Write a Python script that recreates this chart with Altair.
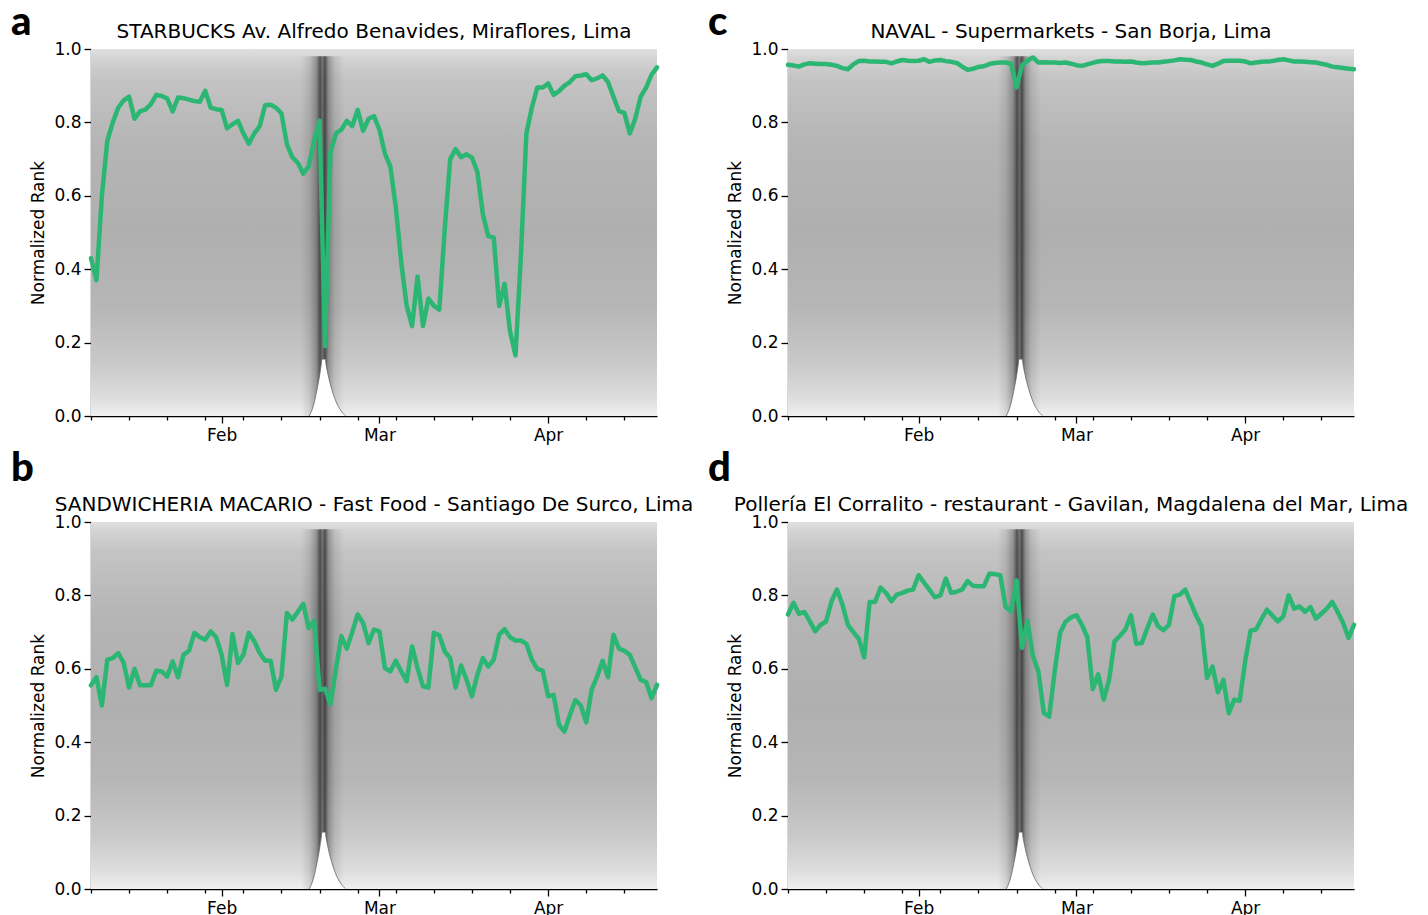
import altair as alt
import pandas as pd
import numpy as np

START = "2020-01-08"
END = "2020-04-21"

# ---- green highlighted series (daily, Jan 8 .. Apr 21, 2020) ----
vals_a = [0.43, 0.37, 0.60, 0.75, 0.80, 0.84, 0.86, 0.87, 0.81, 0.83,
          0.835, 0.85, 0.875, 0.872, 0.865, 0.83, 0.868, 0.866, 0.862, 0.858,
          0.856, 0.886, 0.84, 0.836, 0.834, 0.784, 0.795, 0.804, 0.77, 0.742,
          0.77, 0.79, 0.847, 0.848, 0.84, 0.824, 0.74, 0.705, 0.69, 0.66,
          0.68, 0.75, 0.805, 0.19, 0.72, 0.77, 0.78, 0.804, 0.79, 0.834,
          0.777, 0.81, 0.817, 0.78, 0.715, 0.68, 0.57, 0.42, 0.30, 0.245,
          0.38, 0.245, 0.32, 0.30, 0.29, 0.51, 0.70, 0.727, 0.705, 0.713,
          0.704, 0.665, 0.55, 0.49, 0.486, 0.30, 0.36, 0.23, 0.165, 0.44,
          0.77, 0.84, 0.895, 0.895, 0.906, 0.875, 0.885, 0.90, 0.91, 0.926,
          0.928, 0.931, 0.915, 0.92, 0.928, 0.91, 0.87, 0.831, 0.826, 0.77,
          0.81, 0.87, 0.895, 0.93, 0.95]

vals_b = [0.555, 0.577, 0.50, 0.625, 0.629, 0.643, 0.616, 0.549, 0.60, 0.555,
          0.555, 0.555, 0.595, 0.593, 0.579, 0.62, 0.577, 0.638, 0.649, 0.698,
          0.686, 0.679, 0.702, 0.686, 0.638, 0.556, 0.695, 0.616, 0.638, 0.698,
          0.675, 0.643, 0.622, 0.622, 0.543, 0.579, 0.752, 0.734, 0.755, 0.777,
          0.711, 0.731, 0.543, 0.546, 0.504, 0.60, 0.689, 0.655, 0.70, 0.748,
          0.725, 0.670, 0.707, 0.702, 0.602, 0.593, 0.622, 0.593, 0.566, 0.661,
          0.602, 0.552, 0.549, 0.698, 0.691, 0.647, 0.629, 0.549, 0.609, 0.570,
          0.525, 0.584, 0.629, 0.606, 0.625, 0.693, 0.708, 0.686, 0.677, 0.677,
          0.668, 0.625, 0.600, 0.595, 0.525, 0.529, 0.447, 0.429, 0.474, 0.515,
          0.500, 0.454, 0.543, 0.579, 0.622, 0.577, 0.693, 0.655, 0.649, 0.638,
          0.604, 0.570, 0.564, 0.520, 0.556]

vals_c = [0.957, 0.955, 0.952, 0.958, 0.961, 0.960, 0.959, 0.959, 0.957, 0.954,
          0.948, 0.945, 0.958, 0.967, 0.968, 0.966, 0.966, 0.965, 0.965, 0.961,
          0.966, 0.970, 0.968, 0.967, 0.968, 0.972, 0.965, 0.969, 0.970, 0.967,
          0.965, 0.962, 0.952, 0.943, 0.946, 0.951, 0.953, 0.959, 0.962, 0.963,
          0.963, 0.960, 0.895, 0.955, 0.968, 0.977, 0.963, 0.964, 0.963, 0.963,
          0.962, 0.963, 0.960, 0.956, 0.954, 0.958, 0.962, 0.966, 0.967, 0.967,
          0.966, 0.966, 0.965, 0.966, 0.963, 0.961, 0.962, 0.963, 0.963, 0.965,
          0.967, 0.969, 0.972, 0.971, 0.970, 0.966, 0.963, 0.958, 0.954, 0.960,
          0.967, 0.968, 0.968, 0.968, 0.966, 0.961, 0.963, 0.965, 0.966, 0.967,
          0.970, 0.972, 0.969, 0.966, 0.966, 0.965, 0.964, 0.963, 0.960, 0.957,
          0.952, 0.950, 0.948, 0.946, 0.945]

vals_d = [0.748, 0.780, 0.750, 0.755, 0.73, 0.702, 0.720, 0.729, 0.784, 0.816,
          0.775, 0.720, 0.70, 0.682, 0.631, 0.782, 0.782, 0.821, 0.807, 0.784,
          0.802, 0.807, 0.813, 0.816, 0.855, 0.835, 0.815, 0.795, 0.800, 0.846,
          0.807, 0.810, 0.816, 0.839, 0.826, 0.825, 0.825, 0.859, 0.858, 0.855,
          0.768, 0.757, 0.841, 0.657, 0.731, 0.634, 0.593, 0.48, 0.47, 0.593,
          0.698, 0.728, 0.740, 0.746, 0.72, 0.686, 0.545, 0.585, 0.516, 0.57,
          0.675, 0.69, 0.707, 0.746, 0.668, 0.670, 0.71, 0.748, 0.716, 0.705,
          0.72, 0.798, 0.802, 0.816, 0.78, 0.745, 0.716, 0.575, 0.606, 0.536,
          0.570, 0.479, 0.516, 0.513, 0.62, 0.704, 0.707, 0.735, 0.761, 0.745,
          0.729, 0.743, 0.800, 0.764, 0.770, 0.755, 0.768, 0.737, 0.75, 0.764,
          0.782, 0.755, 0.725, 0.684, 0.720]

titles = ["STARBUCKS Av. Alfredo Benavides, Miraflores, Lima",
          "NAVAL - Supermarkets - San Borja, Lima",
          "SANDWICHERIA MACARIO - Fast Food - Santiago De Surco, Lima",
          "Pollería El Corralito - restaurant - Gavilan, Magdalena del Mar, Lima"]
letters = ["a", "c", "b", "d"]

# background decoration: dark convergence band and white notch (day offsets)
band_days = [38.5, 46.5]
band_vals = [0.0, 0.98]
notch_days = [40.1, 40.9, 41.5, 42.0, 42.3, 42.45, 43.05, 43.2, 43.6, 44.2, 45.0, 45.9, 46.8]
notch_vals = [0.0, 0.03, 0.07, 0.11, 0.14, 0.155, 0.155, 0.14, 0.11, 0.075, 0.04, 0.015, 0.0]

# axis ticks
minor_ticks = [(1, 8), (1, 15), (1, 22), (1, 29), (2, 5), (2, 12), (2, 19), (2, 26),
               (3, 4), (3, 11), (3, 18), (3, 25), (4, 8), (4, 15)]
month_ticks = [(2, 1), (3, 1), (4, 1)]
y_ticks = [0.0, 0.2, 0.4, 0.6, 0.8, 1.0]

GREEN = "#2bb673"
FONT = "DejaVu Sans"
W, H = 566, 367


def to_dates(days):
    return pd.Timestamp(START) + pd.to_timedelta(np.asarray(days, dtype=float), unit="D")


tick_values = [alt.DateTime(year=2020, month=m, date=d) for m, d in minor_ticks + month_ticks]
xscale = alt.Scale(domain=[alt.DateTime(year=2020, month=1, date=8),
                           alt.DateTime(year=2020, month=4, date=21)])
xaxis = alt.Axis(values=tick_values, title=None, grid=False,
                 labelExpr="date(datum.value) == 1 ? timeFormat(datum.value, '%b') : ''",
                 tickSize={"condition": {"test": "date(datum.value) == 1", "value": 7}, "value": 4},
                 labelFont=FONT, labelFontSize=17, labelColor="black", labelPadding=4,
                 domainColor="black", domainWidth=1.3, tickColor="black", tickWidth=1.3,
                 labelFlush=False, labelOverlap=False)
yscale = alt.Scale(domain=[0, 1], nice=False)
yaxis = alt.Axis(values=y_ticks, format=".1f", title="Normalized Rank", grid=False,
                 tickSize=7, labelFont=FONT, labelFontSize=17, labelColor="black",
                 labelPadding=3, titleFont=FONT, titleFontSize=17, titleFontWeight="normal",
                 titleColor="black", titlePadding=6, domainColor="black", domainWidth=1.3,
                 tickColor="black", tickWidth=1.3)

bg_grad = alt.LinearGradient(
    gradient="linear", x1=0, x2=0, y1=0, y2=1,
    stops=[alt.GradientStop(color="#e0e0e0", offset=0.0),
           alt.GradientStop(color="#d3d3d3", offset=0.025),
           alt.GradientStop(color="#c4c4c4", offset=0.08),
           alt.GradientStop(color="#b5b5b5", offset=0.25),
           alt.GradientStop(color="#afafaf", offset=0.5),
           alt.GradientStop(color="#b6b6b6", offset=0.7),
           alt.GradientStop(color="#c8c8c8", offset=0.85),
           alt.GradientStop(color="#dddddd", offset=0.95),
           alt.GradientStop(color="#f0f0f0", offset=1.0)])
band_grad = alt.LinearGradient(
    gradient="linear", x1=0, x2=1, y1=0, y2=0,
    stops=[alt.GradientStop(color="rgba(40,40,40,0)", offset=0.0),
           alt.GradientStop(color="rgba(40,40,40,0.12)", offset=0.2),
           alt.GradientStop(color="rgba(35,35,35,0.35)", offset=0.36),
           alt.GradientStop(color="rgba(25,25,25,0.7)", offset=0.45),
           alt.GradientStop(color="rgba(30,30,30,0.5)", offset=0.5),
           alt.GradientStop(color="rgba(25,25,25,0.72)", offset=0.56),
           alt.GradientStop(color="rgba(35,35,35,0.35)", offset=0.64),
           alt.GradientStop(color="rgba(40,40,40,0.12)", offset=0.78),
           alt.GradientStop(color="rgba(40,40,40,0)", offset=1.0)])


def panel(vals, title, letter, letter_dy):
    X = alt.X("date:T", scale=xscale, axis=xaxis)
    Y = alt.Y("v:Q", scale=yscale, axis=yaxis)

    bg_df = pd.DataFrame({"date": [pd.Timestamp(START)], "date2": [pd.Timestamp(END)],
                          "v": [1.0], "v2": [0.0]})
    bg = alt.Chart(bg_df).mark_rect(color=bg_grad).encode(x=X, x2="date2:T", y=Y, y2="v2:Q")

    bd = to_dates(band_days)
    band_df = pd.DataFrame({"date": [bd[0]], "date2": [bd[1]],
                            "v": [band_vals[1]], "v2": [band_vals[0]]})
    band = alt.Chart(band_df).mark_rect(color=band_grad).encode(x=X, x2="date2:T", y=Y, y2="v2:Q")

    notch_df = pd.DataFrame({"date": to_dates(notch_days), "v": notch_vals})
    notch = alt.Chart(notch_df).mark_area(color="white", interpolate="monotone", opacity=1).encode(x=X, y=Y)
    notch_edge = alt.Chart(notch_df).mark_line(color="#666666", strokeWidth=0.8,
                                               interpolate="monotone").encode(x=X, y=Y)

    line_df = pd.DataFrame({"date": to_dates(range(len(vals))), "v": vals})
    line = alt.Chart(line_df).mark_line(color=GREEN, strokeWidth=4.5, strokeJoin="round",
                                        strokeCap="round").encode(x=X, y=Y)

    lab_df = pd.DataFrame({"t": [letter]})
    lab = alt.Chart(lab_df).mark_text(font="Lato", fontWeight=900, fontSize=40, align="left",
                                      baseline="alphabetic", color="black").encode(
        text="t:N", x=alt.value(-80), y=alt.value(letter_dy))

    ttl_df = pd.DataFrame({"t": [title]})
    ttl = alt.Chart(ttl_df).mark_text(font=FONT, fontSize=20, align="center",
                                      baseline="alphabetic", color="black").encode(
        text="t:N", x=alt.value(W / 2), y=alt.value(-11))

    return alt.layer(bg, band, notch, notch_edge, line, lab, ttl).properties(width=W, height=H)


series = [vals_a, vals_c, vals_b, vals_d]
dys = [-14, -14, -41, -41]
panels = [panel(s, t, l, dy) for s, t, l, dy in zip(series, titles, letters, dys)]

chart = alt.concat(*panels, columns=2, spacing=alt.RowColnumber(row=106, column=131),
                   bounds="flush").properties(
    padding={"left": 10, "top": 2, "right": 5, "bottom": 2},
    background="white",
).configure_view(stroke="transparent")

chart.save("out.html", embed_options={"renderer": "svg", "actions": False})
